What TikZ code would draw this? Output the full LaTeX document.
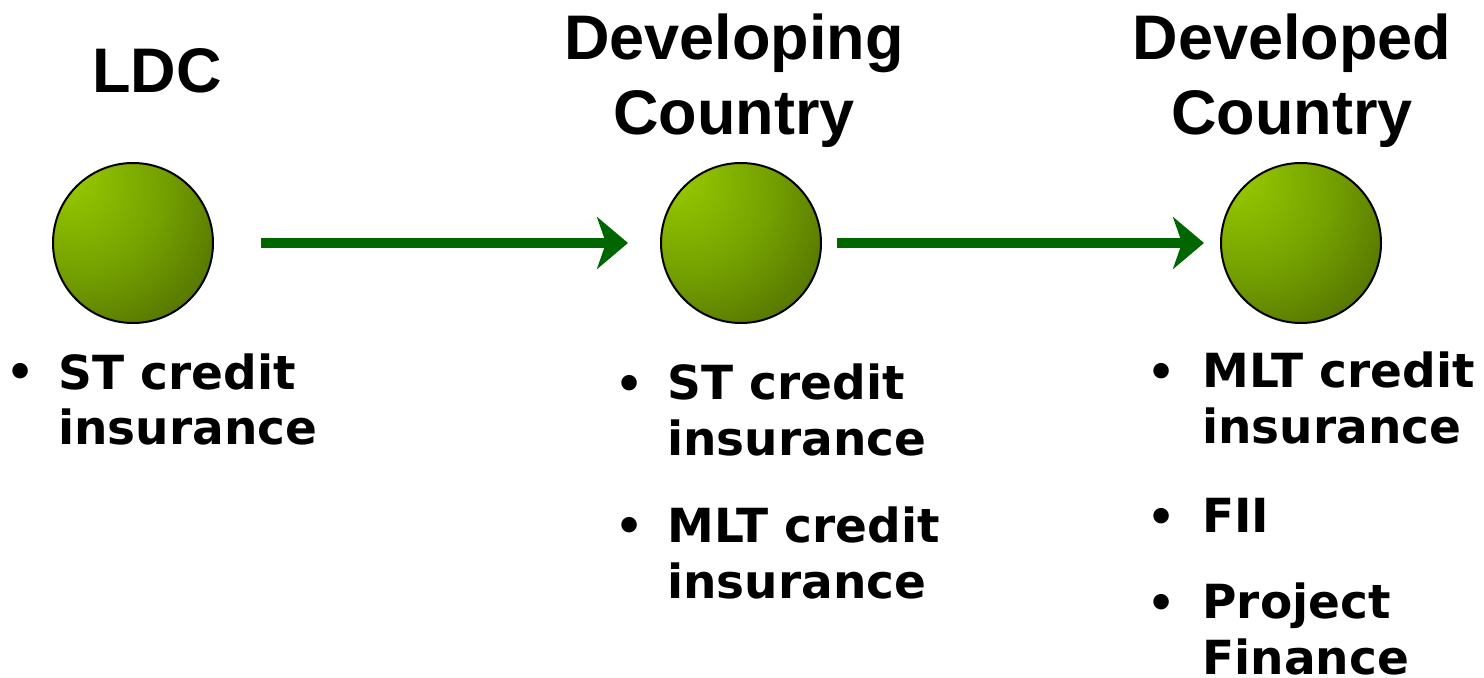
\documentclass[tikz,border=0pt]{standalone}
\usepackage{fontspec}
\newfontfamily\headfont{Liberation Sans}
\newfontfamily\itemfont{DejaVu Sans}
\usetikzlibrary{arrows.meta}
\definecolor{arrowgreen}{HTML}{006600}
\definecolor{ballhi}{HTML}{94C600}
\definecolor{ballmid}{HTML}{74A000}
\definecolor{balllo}{HTML}{486200}
\pgfdeclareradialshading{greenball}{\pgfpoint{-22bp}{22bp}}{%
  color(0bp)=(ballhi); color(4bp)=(ballhi); color(26bp)=(ballmid);
  color(52bp)=(balllo); color(100bp)=(balllo)}
\tikzset{
  ball/.style={circle, draw=black, line width=1pt, minimum size=80pt,
    inner sep=0pt, outer sep=0pt, shading=greenball},
  flow/.style={draw=arrowgreen, line width=5pt,
    -{Stealth[length=15.5pt, width=26pt, inset=4.5pt]}},
  head/.style={font=\headfont\bfseries\fontsize{31.5pt}{37.5pt}\selectfont,
    align=center, inner sep=0pt, anchor=base},
  itemtext/.style={font=\itemfont\bfseries\fontsize{23.5pt}{28pt}\selectfont,
    align=left, inner sep=0pt, anchor=base west},
  bul/.style={font=\itemfont\bfseries\fontsize{22pt}{28pt}\selectfont,
    inner sep=0pt, anchor=base}
}
\begin{document}
\begin{tikzpicture}[x=0.5pt, y=-0.5pt]
\useasboundingbox (0,0) rectangle (1484,678);

% stages
\node[ball] (ldc) at (133,243) {};
\node[ball] (dev) at (741,243) {};
\node[ball] (dvd) at (1301,243) {};

% transitions between stages
\draw[flow, shorten <=24pt, shorten >=16.5pt] (ldc) -- (dev);
\draw[flow, shorten <=8pt, shorten >=8.5pt] (dev) -- (dvd);

% stage titles (multi-line nodes sit on their last baseline)
\node[head] (tldc) at (157,93) {LDC};
\node[head] (tdev) at (734,135) {Developing\\Country};
\node[head] (tdvd) at (1292,135) {Developed\\Country};

% instruments available at each stage
\node[bul] (b1) at (21,388) {•};
\node[itemtext] (i1) at (58,445) {ST credit\\insurance};

\node[bul] (b2) at (630,400) {•};
\node[itemtext] (i2) at (667,456) {ST credit\\insurance};
\node[bul] (b3) at (630,542) {•};
\node[itemtext] (i3) at (667,598) {MLT credit\\insurance};

\node[bul] (b4) at (1162,388) {•};
\node[itemtext] (i4) at (1202,444) {MLT credit\\insurance};
\node[bul] (b5) at (1162,532) {•};
\node[itemtext] (i5) at (1202,532) {FII};
\node[bul] (b6) at (1162,618) {•};
\node[itemtext] (i6) at (1202,674) {Project\\Finance};
\end{tikzpicture}
\end{document}
